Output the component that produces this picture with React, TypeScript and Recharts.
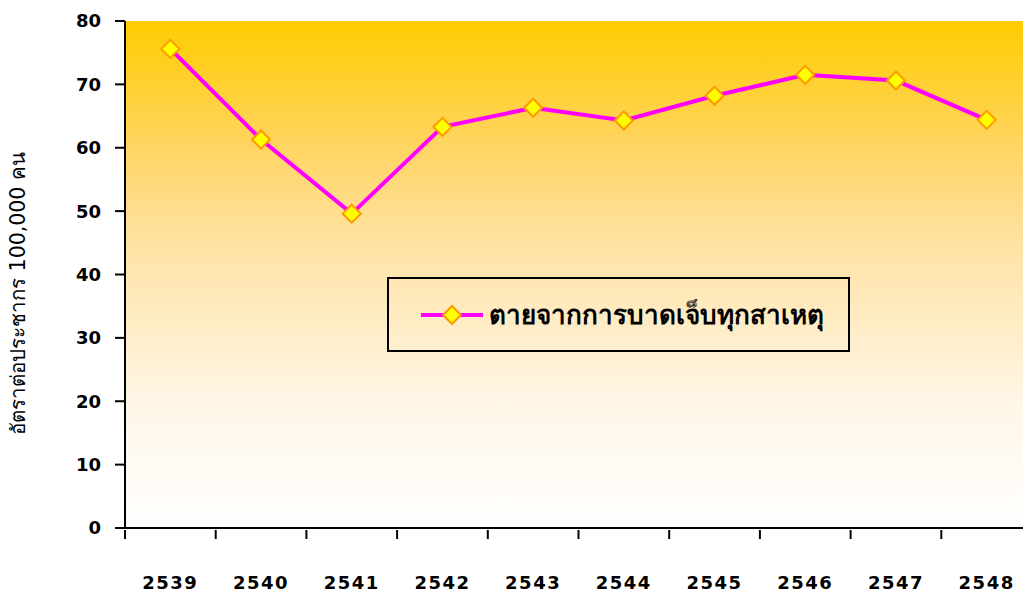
import { LineChart, Line, XAxis, YAxis, CartesianGrid, Legend } from 'recharts';

const years = ['2539', '2540', '2541', '2542', '2543', '2544', '2545', '2546', '2547', '2548'];
const deathRate = [75.6, 61.3, 49.6, 63.3, 66.3, 64.3, 68.2, 71.5, 70.6, 64.4];
const yTicks = [0, 10, 20, 30, 40, 50, 60, 70, 80];
const seriesName = 'ตายจากการบาดเจ็บทุกสาเหตุ';
const yLabel = 'อัตราต่อประชากร 100,000 คน';

// x is the category index + 0.5 so points sit in the middle of each slot
const data = years.map((y, i) => ({ x: i + 0.5, year: y, rate: deathRate[i] }));
const xTicks: number[] = [];
for (let i = 0; i <= years.length * 2; i++) xTicks.push(i / 2);

const FONT = '"DejaVu Sans", Verdana, sans-serif';

function XTick({ x, y, payload }: any) {
  const v = payload.value as number;
  if (Number.isInteger(v)) {
    return <line x1={x} y1={y} x2={x} y2={y + 9} stroke="#000" strokeWidth={2} />;
  }
  const label = years[Math.floor(v)];
  return (
    <text x={x} y={y + 59} textAnchor="middle" fontFamily={FONT} fontWeight="bold" fontSize={18} letterSpacing={1.5} fill="#000">
      {label}
    </text>
  );
}

function Diamond({ cx, cy }: any) {
  if (cx == null || cy == null) return null;
  const r = 9;
  return (
    <polygon
      points={`${cx},${cy - r} ${cx + r},${cy} ${cx},${cy + r} ${cx - r},${cy}`}
      fill="#FFFF00"
      stroke="#FF9900"
      strokeWidth={2}
    />
  );
}

function YLabel({ viewBox }: any) {
  const cy = viewBox.y + viewBox.height / 2 + 19;
  const cx = 18;
  return (
    <text
      x={cx}
      y={cy}
      transform={`rotate(-90 ${cx} ${cy})`}
      textAnchor="middle"
      dominantBaseline="central"
      fontFamily={FONT}
      fontSize={20.5}
      fill="#000"
    >
      {yLabel}
    </text>
  );
}

function LegendBox() {
  return (
    <div style={{ display: 'flex', alignItems: 'center', height: '100%', paddingLeft: 30 }}>
      <svg width={66} height={24}>
        <line x1={2} y1={12} x2={64} y2={12} stroke="#FF00FF" strokeWidth={4} />
        <Diamond cx={33} cy={12} />
      </svg>
      <span style={{ fontFamily: FONT, fontWeight: 'bold', fontSize: 26, color: '#000', marginLeft: 4 }}>
        {seriesName}
      </span>
    </div>
  );
}

export default function App() {
  return (
    <div style={{ position: 'absolute', left: 0, top: 0, width: 1023, height: 592, overflow: 'hidden', background: '#fff' }}>
      <LineChart width={1032} height={592} data={data} margin={{ top: 21, right: 0, bottom: 0, left: 0 }}>
        <defs>
          <linearGradient id="bg" x1="0" y1="0" x2="0" y2="1">
            <stop offset="0%" stopColor="#FFCC00" />
            <stop offset="25%" stopColor="#FFD562" />
            <stop offset="45%" stopColor="#FFE3A6" />
            <stop offset="75%" stopColor="#FFF6E6" />
            <stop offset="100%" stopColor="#FFFFFF" />
          </linearGradient>
        </defs>
        <CartesianGrid horizontal={false} vertical={false} fill="url(#bg)" />
        <XAxis
          dataKey="x"
          type="number"
          domain={[0, years.length]}
          ticks={xTicks}
          interval={0}
          tick={<XTick />}
          tickLine={false}
          tickSize={0}
          height={64}
          axisLine={{ stroke: '#000', strokeWidth: 2 }}
        />
        <YAxis
          domain={[0, 80]}
          ticks={yTicks}
          interval={0}
          width={125}
          tickSize={10}
          tickLine={{ stroke: '#000', strokeWidth: 2 }}
          axisLine={{ stroke: '#000', strokeWidth: 2 }}
          tick={{ fontFamily: FONT, fontWeight: 'bold', fontSize: 18, fill: '#000' }}
          tickMargin={14}
          label={<YLabel />}
        />
        <Legend
          layout="horizontal"
          verticalAlign="middle"
          align="center"
          content={<LegendBox />}
          wrapperStyle={{
            left: 387,
            top: 277,
            width: 463,
            height: 75,
            border: '2px solid #000',
            boxSizing: 'border-box',
          }}
        />
        <Line
          type="linear"
          dataKey="rate"
          name={seriesName}
          stroke="#FF00FF"
          strokeWidth={4}
          dot={<Diamond />}
          activeDot={false}
          isAnimationActive={false}
        />
      </LineChart>
    </div>
  );
}
